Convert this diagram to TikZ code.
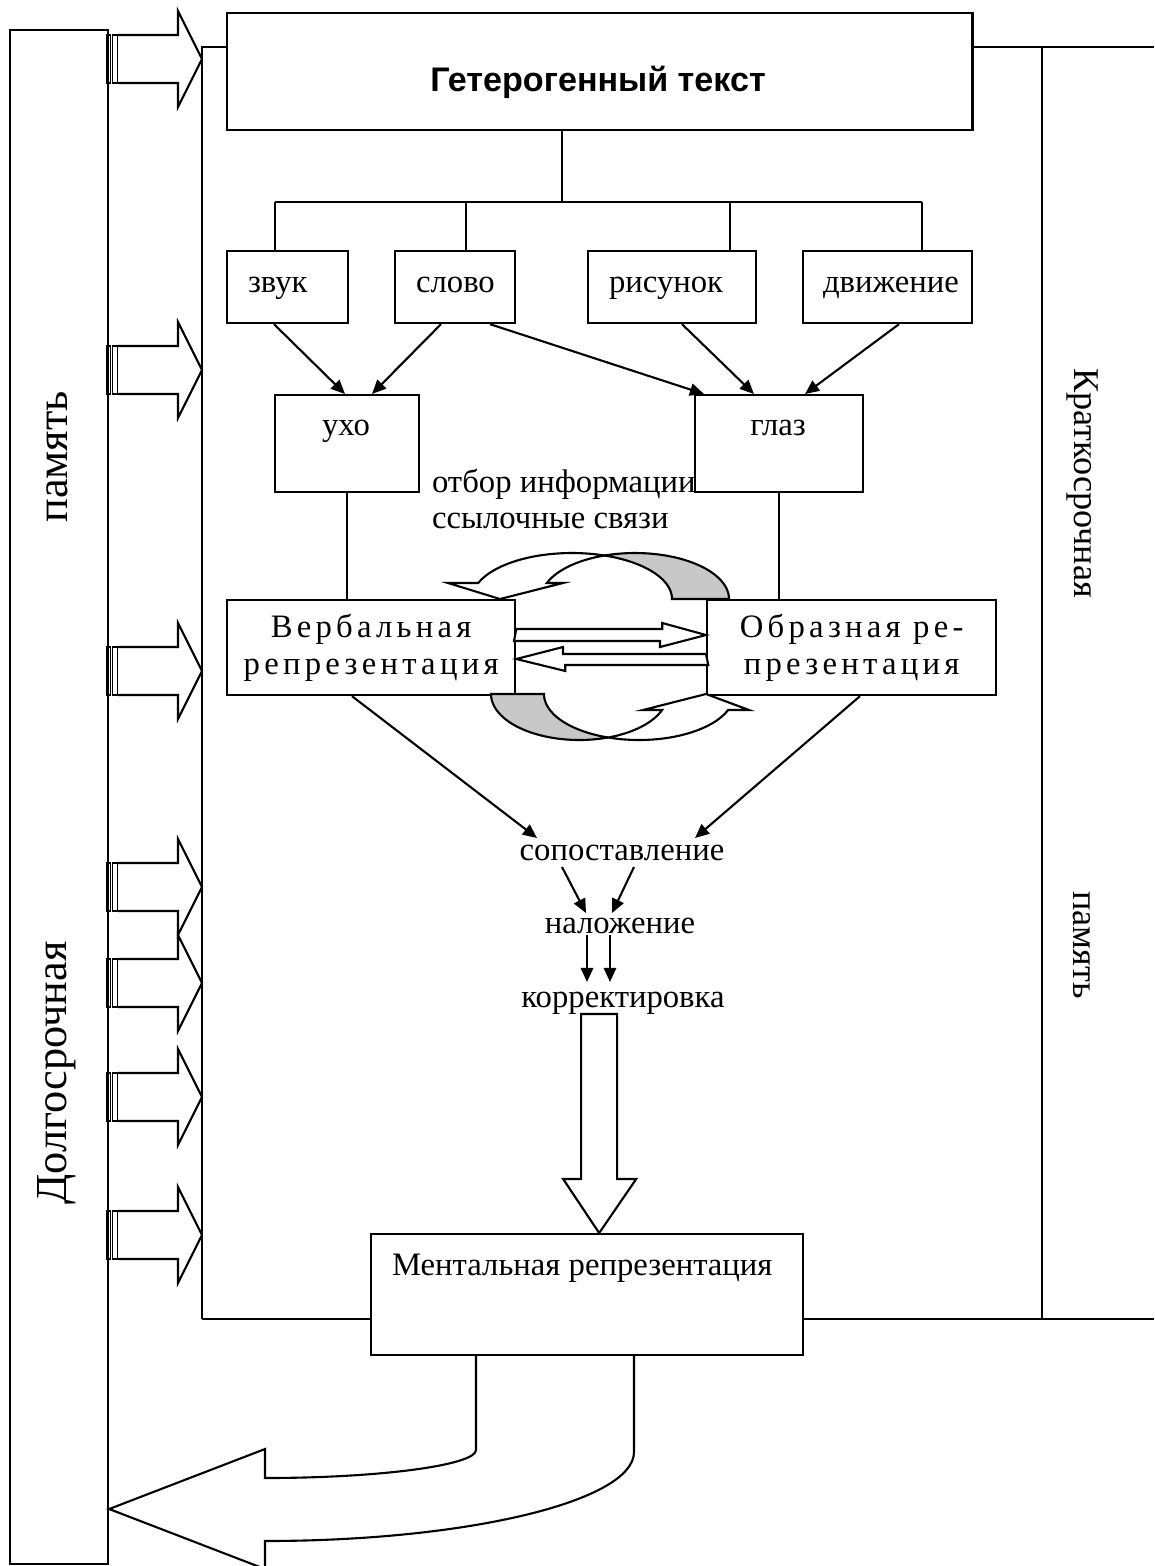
\documentclass[tikz,border=0pt]{standalone}
\usepackage{fontspec}
\setmainfont{Liberation Serif}
\newfontfamily\headfont{Liberation Sans}
\newfontfamily\spacedfont{Liberation Serif}[LetterSpace=13]
\usetikzlibrary{arrows.meta, calc}
\definecolor{Shade}{HTML}{C8C8C8}
\newcommand\bodysize{\fontsize{9.3}{10.5}\selectfont}
\newcommand\sidesize{\fontsize{10.3}{12}\selectfont}
\newcommand\longsize{\fontsize{12.6}{14}\selectfont}

\begin{document}
\begin{tikzpicture}[x=0.01cm, y=-0.01cm, line width=0.6pt,
  box/.style={draw, fill=white, anchor=north west, inner sep=0pt},
  txt/.style={inner sep=0pt, font=\bodysize},
  arr/.style={-{Triangle[length=4pt, width=3.5pt]}},
  fat/.style={draw, fill=white},
  bar/.style={line width=0.4pt},
  side/.style={inner sep=0pt, font=\sidesize}]
\useasboundingbox (0,0) rectangle (1154,1566);

% ── Memory frames ─────────────────────────────────────────────────────────────
\draw (202,1319) -- (202,47) -- (1154,47);
\draw (202,1319) -- (1154,1319);
\draw (1042,47) -- (1042,1319);
\node[box, minimum width=0.98cm, minimum height=15.33cm] (ltm) at (9,29) {};
\node[side, font=\longsize, rotate=90] (ltmB) at (57,457) {память};
\node[side, font=\longsize, rotate=90] (ltmA) at (57,1073) {Долгосрочная};
\node[side, rotate=-90] (stmA) at (1082,483) {Краткосрочная};
\node[side, rotate=-90] (stmB) at (1082,945) {память};

\foreach \c in {59,370,671,887,983,1097,1235}{
  \draw[bar] (107,\c-24) rectangle (110.5,\c+24);
  \draw[bar] (112.5,\c-24) rectangle (118,\c+24);
  \draw[fat] (118,\c-24) -- (178,\c-24) -- (178,\c-48) -- (202,\c)
    -- (178,\c+48) -- (178,\c+24) -- (118,\c+24);
}

% ── Text and channels ─────────────────────────────────────────────────────────
\node[box, minimum width=7.45cm, minimum height=1.17cm] (hetero) at (226,12) {};
\node[txt, anchor=base, font=\headfont\bfseries\fontsize{9.7}{11}\selectfont]
  (heteroT) at (598,91) {Гетерогенный текст};

\node[box, minimum width=1.21cm, minimum height=0.72cm] (zvuk) at (226,250) {};
\node[box, minimum width=1.20cm, minimum height=0.72cm] (slovo) at (394,250) {};
\node[box, minimum width=1.68cm, minimum height=0.72cm] (risunok) at (587,250) {};
\node[box, minimum width=1.69cm, minimum height=0.72cm] (dvizh) at (802,250) {};
\node[txt, anchor=base west] (zvukT) at (247,292) {звук};
\node[txt, anchor=base west] (slovoT) at (415,292) {слово};
\node[txt, anchor=base west] (risunokT) at (608,292) {рисунок};
\node[txt, anchor=base west] (dvizhT) at (822,292) {движение};

\coordinate (hub) at (562,202);
\draw (hetero.south -| hub) -- (hub);
\draw (275,202) -- (922,202);
\foreach \bx/\nm in {275/zvuk, 466/slovo, 730/risunok, 922/dvizh}
  \draw (\bx,202) -- (\nm.north -| \bx,202);

\node[box, minimum width=1.44cm, minimum height=0.97cm] (ukho) at (274,394) {};
\node[box, minimum width=1.68cm, minimum height=0.97cm] (glaz) at (694,394) {};
\node[txt, anchor=base] (ukhoT) at (346,435) {ухо};
\node[txt, anchor=base] (glazT) at (778,435) {глаз};

\draw[arr] ($(zvuk.south west)+(48,0)$) -- ($(ukho.north west)+(71,0)$);
\draw[arr] ($(slovo.south west)+(47,0)$) -- ($(ukho.north west)+(98,0)$);
\draw[arr] ($(slovo.south west)+(96,0)$) -- ($(glaz.north west)+(10,0)$);
\draw[arr] ($(risunok.south west)+(95,0)$) -- ($(glaz.north west)+(60,0)$);
\draw[arr] ($(dvizh.south west)+(97,0)$) -- ($(glaz.north west)+(111,0)$);

\node[txt, anchor=base west] (otbor) at (431,492) {отбор информации};
\node[txt, anchor=base west] (ssyl) at (431,528) {ссылочные связи};

% ── Representations ───────────────────────────────────────────────────────────
\node[box, minimum width=2.88cm, minimum height=0.95cm, align=center,
      font=\spacedfont\bodysize] (verb) at (226,599) {Вербальная\\репрезентация};
\node[box, minimum width=2.89cm, minimum height=0.95cm, align=center,
      font=\spacedfont\bodysize] (obr) at (706,599) {Образная ре-\\презентация};
\draw (ukho.south) -- (ukho.south |- verb.north);
\draw (glaz.south) -- (glaz.south |- obr.north);

\draw[fat] ($(verb.north east)+(0,30)$) -- ++(146,0) -- ++(0,-6)
  -- ($(obr.north west)+(0,36)$) -- ++(-46,12) -- ++(0,-6) -- ++(-146,0) -- cycle;
\draw[fat] ($(obr.north west)+(0,55)$) -- ++(-143,0) -- ++(0,-7)
  -- ($(verb.north east)+(0,60)$) -- ++(49,12) -- ++(0,-6) -- ++(143,0) -- cycle;

% twisted loop arrows
\draw[fat] plot[domain=159.6:71, samples=40] ({572+100*cos(\x)},{599-46*sin(\x)})
  -- plot[domain=108.9:159.6, samples=40] ({635+94*cos(\x)},{599-46*sin(\x)})
  -- (563,583) -- (500,599) -- (448,583) -- cycle;
\draw[fill=Shade] plot[domain=108.9:0, samples=40] ({635+94*cos(\x)},{599-46*sin(\x)})
  -- plot[domain=0:71, samples=40] ({572+100*cos(\x)},{599-46*sin(\x)}) -- cycle;
\draw[fill=Shade] plot[domain=180:71, samples=40] ({579.3+88.3*cos(\x)},{694+46*sin(\x)})
  -- plot[domain=109:180, samples=40] ({639+95*cos(\x)},{694+46*sin(\x)}) -- cycle;
\draw[fat] plot[domain=109:20.4, samples=40] ({639+95*cos(\x)},{694+46*sin(\x)})
  -- (749,710) -- (706,694) -- (643,710)
  -- plot[domain=20.4:71, samples=40] ({579.3+88.3*cos(\x)},{694+46*sin(\x)}) -- cycle;

% ── Comparison chain ──────────────────────────────────────────────────────────
\node[txt, anchor=base] (sopost) at (622,860) {сопоставление};
\node[txt, anchor=base] (nalozh) at (620,933) {наложение};
\node[txt, anchor=base] (korr) at (623,1007) {корректировка};

\draw[arr] ($(verb.south west)+(126,0)$) -- ($(sopost.base)+(-85,-22)$);
\draw[arr] ($(obr.south west)+(154,0)$) -- ($(sopost.base)+(73,-22)$);
\draw[arr] ($(sopost.base)+(-60,7)$) -- ($(nalozh.base)+(-34,-20)$);
\draw[arr] ($(sopost.base)+(12,7)$) -- ($(nalozh.base)+(-8,-20)$);
\draw[arr] ($(nalozh.base)+(-33,2)$) -- ($(korr.base)+(-36,-25)$);
\draw[arr] ($(nalozh.base)+(-10,2)$) -- ($(korr.base)+(-13,-25)$);

% ── Mental representation ─────────────────────────────────────────────────────
\node[box, minimum width=4.32cm, minimum height=1.21cm] (ment) at (370,1233) {};
\node[txt, anchor=base west] (mentT) at (391,1275) {Ментальная репрезентация};

\draw[fat] ($(ment.north)+(12,0)$) -- ++(-36,-54) -- ++(18,0) -- ++(0,-165)
  -- ++(36,0) -- ++(0,165) -- ++(19,0) -- cycle;

\draw[fat] ($(ment.south west)+(106,0)$) -- (476,1450)
  .. controls (476,1465) and (381,1478) .. (265,1478) -- (265,1449)
  -- (ltm.east |- 0,1509) -- (265,1569) -- (265,1541)
  .. controls (468,1541) and (634,1501) .. (634,1452)
  -- ($(ment.south west)+(264,0)$);

\end{tikzpicture}
\end{document}
